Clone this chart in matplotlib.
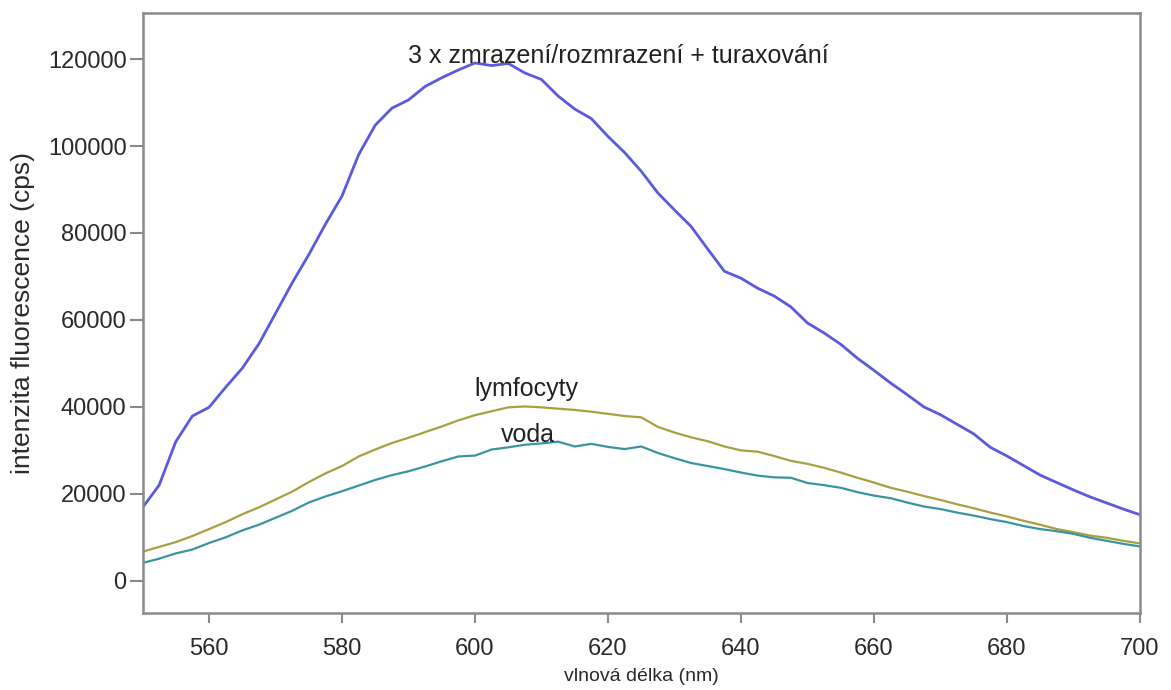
import matplotlib
matplotlib.use('Agg')
import matplotlib.pyplot as plt
import numpy as np

plt.rcParams['font.family'] = ['Liberation Sans', 'DejaVu Sans']

# wavelength grid (nm), 2.5 nm step
vlnova_delka = np.arange(550, 700.1, 2.5)

# 3 x zmrazeni/rozmrazeni + turaxovani
turax = [16800, 22000, 32000, 37900, 39900, 44500, 48900, 54500, 61500, 68500,
         75000, 82000, 88500, 98000, 104800, 108700, 110600, 113700, 115700, 117500,
         119100, 118500, 119000, 116800, 115300, 111500, 108500, 106300, 102200, 98500,
         94200, 89200, 85300, 81500, 76300, 71200, 69600, 67300, 65500, 63000,
         59300, 57000, 54400, 51200, 48400, 45500, 42800, 40000, 38200, 36000,
         33800, 30700, 28700, 26500, 24300, 22600, 20900, 19300, 17900, 16500, 15200]

lymfocyty = [6700, 7800, 8900, 10300, 11900, 13500, 15300, 16900, 18700, 20500,
             22700, 24700, 26400, 28600, 30200, 31700, 32900, 34200, 35500, 36900,
             38100, 39000, 39900, 40100, 39900, 39600, 39300, 38900, 38400, 37900,
             37600, 35400, 34100, 33000, 32100, 30900, 30000, 29700, 28700, 27600,
             26900, 26000, 24900, 23700, 22600, 21400, 20500, 19500, 18600, 17600,
             16700, 15700, 14800, 13800, 12900, 11900, 11200, 10400, 9900, 9200, 8600]

voda = [4100, 5100, 6300, 7200, 8700, 10000, 11600, 12900, 14500, 16100,
        18000, 19400, 20600, 21900, 23200, 24300, 25200, 26300, 27500, 28600,
        28800, 30200, 30700, 31300, 31600, 32000, 30900, 31500, 30800, 30300,
        30900, 29400, 28200, 27100, 26400, 25700, 24900, 24200, 23800, 23700,
        22500, 22000, 21400, 20400, 19600, 19000, 18000, 17100, 16500, 15700,
        15000, 14200, 13500, 12600, 11900, 11400, 10800, 9900, 9200, 8500, 7900]

x_ticks = [560, 580, 600, 620, 640, 660, 680, 700]
y_ticks = [0, 20000, 40000, 60000, 80000, 100000, 120000]

fig = plt.figure(figsize=(11.71, 6.90), dpi=100)
ax = fig.add_axes([0.1217, 0.1116, 0.8518, 0.8696])

ax.plot(vlnova_delka, turax, color='#5a5adc', lw=2.0)
ax.plot(vlnova_delka, lymfocyty, color='#a8a040', lw=1.6)
ax.plot(vlnova_delka, voda, color='#3a94a0', lw=1.6)

txt = dict(fontsize=18, ha='center', va='baseline', color='#222222')
ax.text(621.5, 119100, '3 x zmrazení/rozmrazení + turaxování', **txt)
ax.text(607.8, 42400, 'lymfocyty', **txt)
ax.text(608.0, 32000, 'voda', **txt)

ax.set_xlim(550, 700)
ax.set_ylim(-7400, 130600)
ax.set_xticks(x_ticks)
ax.set_yticks(y_ticks)
ax.set_xticklabels([str(t) for t in x_ticks])
ax.set_yticklabels([str(t) for t in y_ticks])

for s in ax.spines.values():
    s.set_color('#8a8a8a')
    s.set_linewidth(1.8)
ax.tick_params(direction='out', width=1.5, color='#8a8a8a',
               labelsize=17, labelcolor='#2a2a2a')
ax.tick_params(axis='x', length=7, pad=11)
ax.tick_params(axis='y', length=9.5, pad=2)

ax.set_xlabel('vlnová délka (nm)', fontsize=14, color='#2a2a2a', labelpad=6)
ax.set_ylabel('intenzita fluorescence (cps)', fontsize=19, color='#2a2a2a', labelpad=9)

fig.savefig('out.png', dpi=100, facecolor='white')
